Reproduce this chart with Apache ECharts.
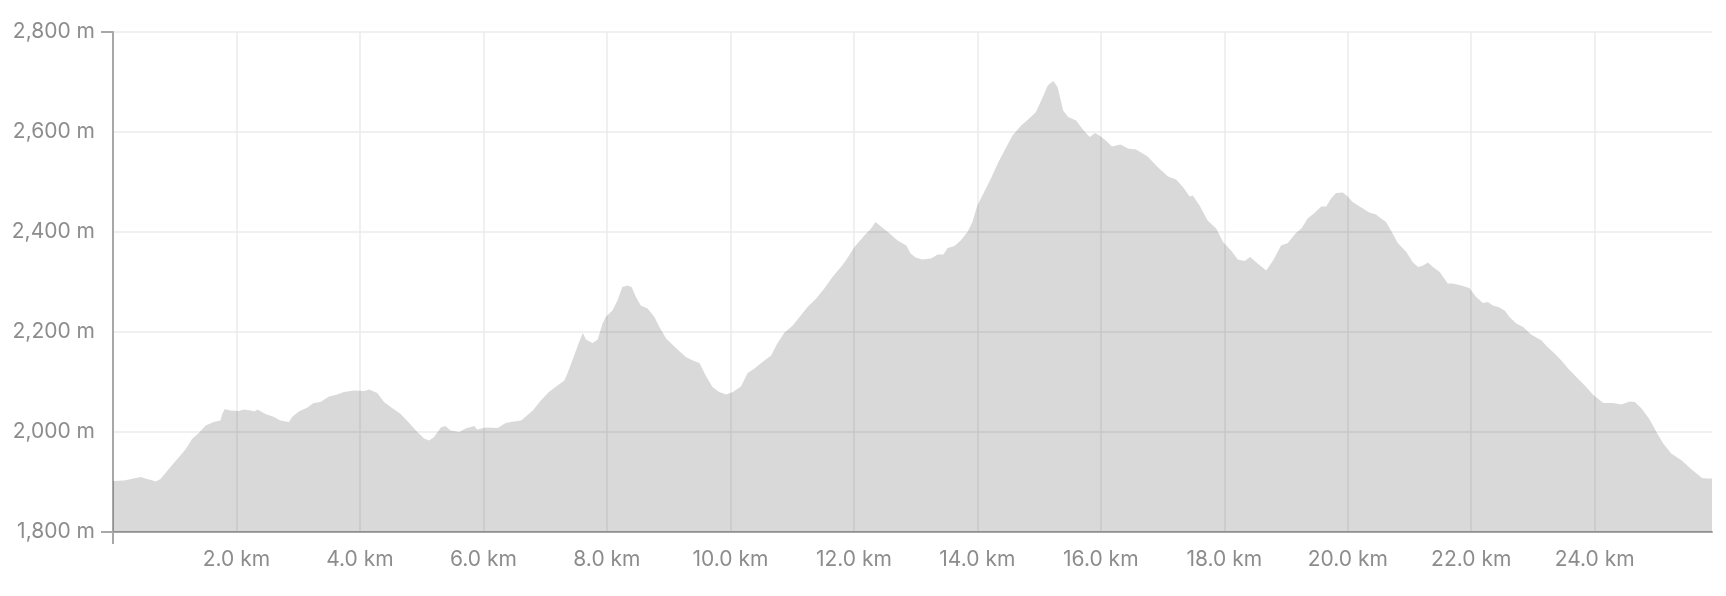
<!DOCTYPE html>
<html>
<head>
<meta charset="utf-8">
<script src="https://cdn.jsdelivr.net/npm/echarts@6/dist/echarts.min.js"></script>
<style>
  html, body { margin: 0; padding: 0; background: #ffffff; }
  #chart { width: 1726px; height: 596px; }
</style>
</head>
<body>
<div id="chart"></div>
<script>
// Distance along the route (km)
const distanceKm = [
  0.00, 0.18, 0.45, 0.55, 0.62, 0.69, 0.77, 0.93, 1.09, 1.18, 1.28, 1.39, 1.50, 1.63, 1.74, 1.77, 1.81, 1.90, 2.04, 2.12, 2.23, 2.29, 2.34, 2.47, 2.61, 2.71, 2.85, 2.90, 3.01, 3.15, 3.25, 3.36, 3.50, 3.63, 3.74, 3.90, 4.07, 4.15, 4.28, 4.39, 4.52, 4.66, 4.79, 4.93, 5.04, 5.12, 5.20, 5.31, 5.38, 5.47, 5.61, 5.71, 5.85, 5.90, 6.04, 6.23, 6.36, 6.44,
  6.61, 6.80, 6.93, 7.06, 7.20, 7.31, 7.36, 7.47, 7.55, 7.61, 7.66, 7.77, 7.85, 7.93, 7.98, 8.09, 8.17, 8.25, 8.33, 8.40, 8.47, 8.55, 8.66, 8.77, 8.85, 8.96, 9.06, 9.17, 9.28, 9.39, 9.50, 9.60, 9.71, 9.82, 9.93, 10.04, 10.17, 10.28, 10.39, 10.52, 10.66, 10.76, 10.87, 11.01, 11.14, 11.25, 11.39, 11.52, 11.66, 11.79, 11.87, 12.01, 12.17, 12.28, 12.35, 12.44, 12.58, 12.71, 12.85,
  12.92, 13.00, 13.11, 13.25, 13.36, 13.45, 13.52, 13.63, 13.73, 13.84, 13.92, 14.00, 14.11, 14.22, 14.33, 14.44, 14.57, 14.71, 14.84, 14.95, 15.06, 15.14, 15.23, 15.30, 15.39, 15.47, 15.60, 15.71, 15.82, 15.91, 16.00, 16.08, 16.18, 16.32, 16.44, 16.57, 16.76, 16.92, 17.09, 17.22, 17.33, 17.44, 17.49, 17.60, 17.73, 17.87, 17.98, 18.11, 18.22, 18.33, 18.42, 18.54, 18.68, 18.79, 18.92, 19.03, 19.16,
  19.25, 19.35, 19.46, 19.57, 19.65, 19.73, 19.81, 19.92, 20.00, 20.08, 20.22, 20.35, 20.46, 20.54, 20.62, 20.70, 20.81, 20.95, 21.05, 21.14, 21.22, 21.30, 21.38, 21.49, 21.62, 21.70, 21.84, 21.97, 22.08, 22.19, 22.27, 22.35, 22.46, 22.55, 22.62, 22.73, 22.84, 22.97, 23.14, 23.22, 23.35, 23.46, 23.57, 23.71, 23.84, 23.97, 24.14, 24.30, 24.43, 24.57, 24.65, 24.76, 24.89, 25.00, 25.11, 25.24, 25.41, 25.57, 25.74, 25.82, 25.90
];

// Elevation (m)
const elevationM = [
  1902, 1903, 1910, 1906, 1904, 1901, 1906, 1930, 1953, 1966, 1986, 1998, 2013, 2020, 2023, 2036, 2046, 2043, 2042, 2045, 2043, 2041, 2045, 2036, 2030, 2023, 2020, 2030, 2041, 2049, 2058, 2060, 2071, 2075, 2080, 2083, 2082, 2085, 2078, 2060, 2048, 2036, 2019, 2000, 1987, 1983, 1990, 2009, 2012, 2003, 2000, 2007, 2012, 2005, 2009, 2008, 2018, 2020,
  2023, 2043, 2063, 2080, 2093, 2103, 2117, 2153, 2180, 2198, 2185, 2178, 2185, 2217, 2230, 2243, 2263, 2290, 2293, 2290, 2270, 2253, 2247, 2230, 2210, 2187, 2175, 2162, 2150, 2143, 2138, 2113, 2090, 2080, 2075, 2080, 2091, 2118, 2127, 2140, 2153, 2177, 2198, 2213, 2233, 2250, 2267, 2287, 2311, 2330, 2343, 2370, 2393, 2407, 2420, 2411, 2397, 2383, 2373,
  2357, 2349, 2345, 2347, 2355, 2355, 2368, 2372, 2383, 2400, 2420, 2453, 2480, 2507, 2537, 2563, 2593, 2613, 2627, 2640, 2670, 2693, 2702, 2690, 2643, 2630, 2623, 2605, 2590, 2598, 2591, 2583, 2571, 2575, 2567, 2565, 2551, 2530, 2511, 2505, 2490, 2471, 2473, 2453, 2423, 2407, 2380, 2363, 2345, 2342, 2350, 2337, 2323, 2343, 2373, 2378, 2398,
  2407, 2427, 2438, 2451, 2451, 2467, 2478, 2479, 2471, 2460, 2449, 2439, 2435, 2427, 2420, 2403, 2378, 2360, 2340, 2330, 2333, 2339, 2330, 2320, 2297, 2297, 2293, 2288, 2270, 2258, 2260, 2253, 2249, 2242, 2230, 2217, 2210, 2195, 2183, 2172, 2157, 2143, 2127, 2109, 2093, 2075, 2058, 2058, 2055, 2061, 2060, 2047, 2025, 2000, 1977, 1957, 1943, 1925, 1908, 1907, 1907
];

// Axis ranges / ticks
const xMin = 0, xMax = 25.9, xStep = 2;
const yMin = 1800, yMax = 2800, yStep = 200;
const xEndTicks = [xMin, xMax];
const yEndTicks = [yMin, yMax];

const profile = distanceKm.map((d, i) => [d, elevationM[i]]);

const textColor = '#8c8c8c';
const axisColor = '#a8a8a8';
const gridColor = '#ebebeb';
const fontFamily = 'Inter, "Noto Sans", sans-serif';
const gridBox = { left: 113, right: 14, top: 32, bottom: 64, containLabel: false };

const chart = echarts.init(document.getElementById('chart'), null, { renderer: 'canvas' });
chart.setOption({
  animation: false,
  backgroundColor: '#ffffff',
  grid: [Object.assign({}, gridBox), Object.assign({}, gridBox)],
  xAxis: [{
    // main axis: line, end ticks and labels
    type: 'value', gridIndex: 0,
    min: xMin, max: xMax, interval: xStep,
    axisLine: { show: true, onZero: false, lineStyle: { color: axisColor, width: 2 } },
    axisTick: { show: true, customValues: xEndTicks, length: 12, lineStyle: { color: axisColor, width: 2 } },
    axisLabel: {
      color: textColor, fontFamily: fontFamily, fontSize: 21, margin: 17,
      showMaxLabel: false,
      formatter: v => (v === 0 ? '' : v.toFixed(1) + ' km')
    },
    splitLine: { show: false }
  }, {
    // grid lines only
    type: 'value', gridIndex: 1,
    min: xMin, max: xMax, interval: xStep,
    axisLine: { show: false }, axisTick: { show: false }, axisLabel: { show: false },
    splitLine: { show: true, showMinLine: false, showMaxLine: false, lineStyle: { color: gridColor, width: 1.5 } },
    z: -1
  }],
  yAxis: [{
    type: 'value', gridIndex: 0,
    min: yMin, max: yMax, interval: yStep,
    axisLine: { show: true, lineStyle: { color: axisColor, width: 2 } },
    axisTick: { show: true, customValues: yEndTicks, length: 12, lineStyle: { color: axisColor, width: 2 } },
    axisLabel: {
      color: textColor, fontFamily: fontFamily, fontSize: 21, margin: 18,
      formatter: v => v.toLocaleString('en-US') + ' m'
    },
    splitLine: { show: false }
  }, {
    type: 'value', gridIndex: 1,
    min: yMin, max: yMax, interval: yStep,
    axisLine: { show: false }, axisTick: { show: false }, axisLabel: { show: false },
    splitLine: { show: true, showMinLine: false, lineStyle: { color: gridColor, width: 1.5 } },
    z: -1
  }],
  series: [{
    type: 'line',
    xAxisIndex: 0, yAxisIndex: 0,
    data: profile,
    showSymbol: false,
    symbol: 'none',
    lineStyle: { width: 0 },
    areaStyle: { color: 'rgba(0,0,0,0.15)', opacity: 1, origin: 'start' },
    z: 2
  }]
});
</script>
</body>
</html>
